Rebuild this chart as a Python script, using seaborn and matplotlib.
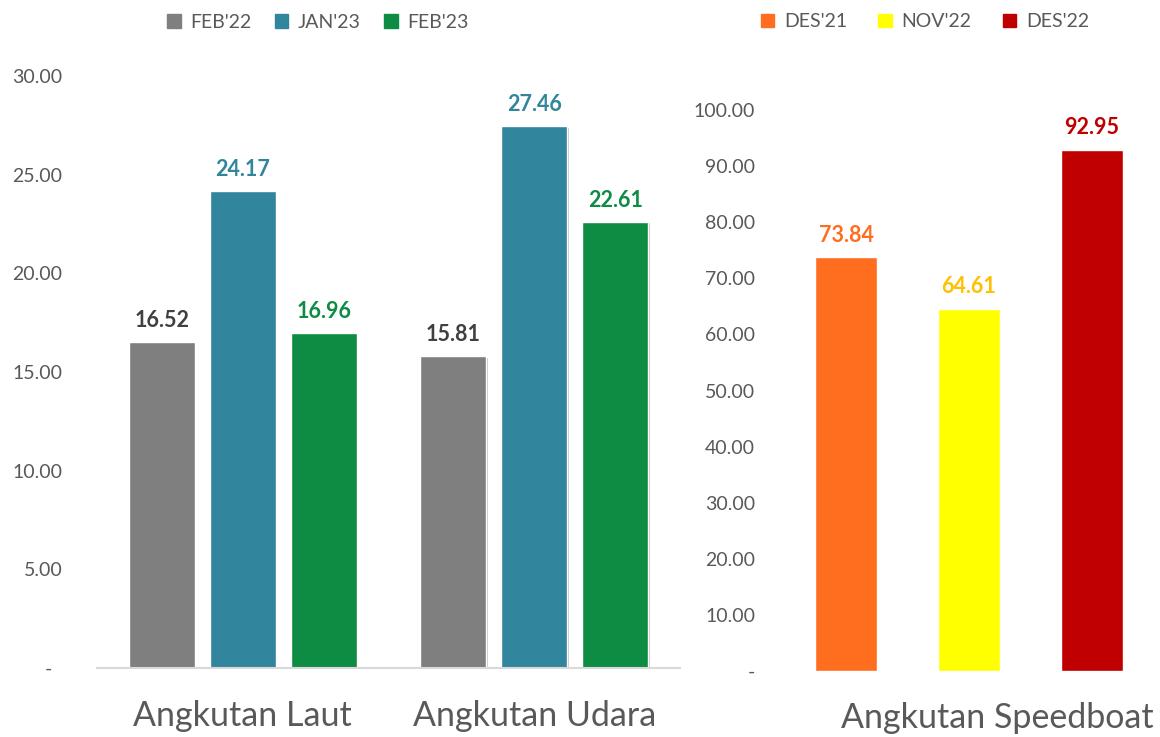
import matplotlib
matplotlib.use("Agg")
import matplotlib.pyplot as plt
import matplotlib.patheffects as pe
import seaborn as sns
import pandas as pd
from matplotlib.patches import Patch

# ---- data ----
left_categories = ["Angkutan Laut", "Angkutan Udara"]
left_months = ["FEB'22", "JAN'23", "FEB'23"]
laut_values = [16.52, 24.17, 16.96]
udara_values = [15.81, 27.46, 22.61]
left_yticks = [0, 5, 10, 15, 20, 25, 30]

right_category = ["Angkutan Speedboat"]
right_months = ["DES'21", "NOV'22", "DES'22"]
speedboat_values = [73.84, 64.61, 92.95]
right_yticks = [0, 10, 20, 30, 40, 50, 60, 70, 80, 90, 100]

left_colors = ["#7F7F7F", "#31859C", "#0F8C43"]
left_label_colors = ["#404040", "#31859C", "#0F8C43"]
right_colors = ["#FF6D1F", "#FFFF00", "#C00000"]
right_label_colors = ["#FF6D1F", "#FFC000", "#C00000"]

sns.set_theme(style="white")
plt.rcParams["font.family"] = ["Lato", "DejaVu Sans"]
TXT = "#595959"

df_left = pd.DataFrame({
    "cat": [left_categories[0]] * 3 + [left_categories[1]] * 3,
    "month": left_months * 2,
    "val": laut_values + udara_values,
})
df_right = pd.DataFrame({
    "cat": right_category * 3,
    "month": right_months,
    "val": speedboat_values,
})

W, H = 1160, 737
fig = plt.figure(figsize=(W / 100, H / 100), dpi=100)

def fx(px):
    return px / W

def fy(px):
    return 1 - px / H

shadow = [pe.SimplePatchShadow(offset=(1.2, -1.2), shadow_rgbFace="#000000", alpha=0.22), pe.Normal()]

# left axes: x 97..680, y 76..668
axL = fig.add_axes([fx(97), fy(668), fx(680 - 97), (668 - 76) / H])
sns.barplot(data=df_left, x="cat", y="val", hue="month", hue_order=left_months,
            palette=left_colors, width=0.834, gap=0.185, legend=False,
            ax=axL, saturation=1)
for p in axL.patches:
    p.set_path_effects(shadow)
axL.set_xlim(-0.5, 1.5)
axL.set_ylim(0, 30)
axL.set_yticks(left_yticks)
axL.set_yticklabels(["-  " if v == 0 else f"{v:.2f}" for v in left_yticks])
axL.tick_params(axis="y", length=0, pad=25, labelsize=14, labelcolor=TXT)
axL.tick_params(axis="x", length=0, pad=23, labelsize=24.5, labelcolor=TXT)
axL.set_xlabel("")
axL.set_ylabel("")
for s in ["top", "right", "left"]:
    axL.spines[s].set_visible(False)
axL.spines["bottom"].set_color("#D9D9D9")
axL.spines["bottom"].set_linewidth(1.5)
for cont, col in zip(axL.containers, left_label_colors):
    axL.bar_label(cont, fmt="%.2f", padding=8, fontsize=15.5, fontweight="bold", color=col)
handles = [Patch(color=c) for c in left_colors]
axL.legend(handles, left_months, loc="center", bbox_to_anchor=((318 - 97) / 583, (668 - 22) / 592),
           ncol=3, frameon=False, fontsize=14, labelcolor=TXT,
           handlelength=0.7, handleheight=0.7, handletextpad=0.5, columnspacing=1.2)

# right axes: x 765..1160, y 110..671
axR = fig.add_axes([fx(765), fy(671), fx(1160 - 765), (671 - 110) / H])
sns.barplot(data=df_right, x="cat", y="val", hue="month", hue_order=right_months,
            palette=right_colors, width=0.9, gap=0.5, legend=False,
            ax=axR, saturation=1)
for p in axR.patches:
    p.set_path_effects(shadow)
k = 410.0
a = -(969 - 765) / k
axR.set_xlim(a, a + 395 / k)
axR.set_ylim(0, 100)
axR.set_yticks(right_yticks)
axR.set_yticklabels(["-" if v == 0 else f"{v:.2f}" for v in right_yticks])
axR.tick_params(axis="y", length=0, pad=7, labelsize=14, labelcolor=TXT)
axR.set_xticks([])
axR.set_ylabel("")
axR.set_xlabel(right_category[0], fontsize=24.5, color=TXT, va="center")
axR.xaxis.set_label_coords((997 - 765) / 395, (671 - 718) / 561)
for s in ["top", "right", "left", "bottom"]:
    axR.spines[s].set_visible(False)
for cont, col in zip(axR.containers, right_label_colors):
    axR.bar_label(cont, fmt="%.2f", padding=8, fontsize=15.5, fontweight="bold", color=col)
handles = [Patch(color=c) for c in right_colors]
axR.legend(handles, right_months, loc="center", bbox_to_anchor=((925 - 765) / 395, (671 - 22) / 561),
           ncol=3, frameon=False, fontsize=14, labelcolor=TXT,
           handlelength=0.7, handleheight=0.7, handletextpad=0.5, columnspacing=1.6)

fig.savefig("out.png", dpi=100)
